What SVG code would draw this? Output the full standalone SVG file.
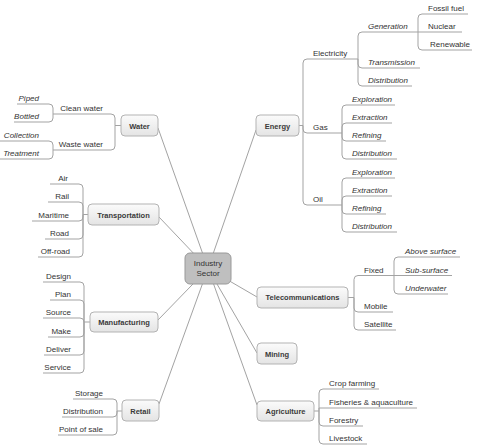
<svg xmlns="http://www.w3.org/2000/svg" width="480" height="445" viewBox="0 0 480 445">
<defs>
<linearGradient id="boxg" x1="0" y1="0" x2="0" y2="1">
<stop offset="0" stop-color="#fbfbfb"/>
<stop offset="1" stop-color="#e4e4e4"/>
</linearGradient>
<style>
.c{fill:none;stroke:#a3a3a3;stroke-width:1}
.box{fill:url(#boxg);stroke:#b3b3b3;stroke-width:1}
.main{font-family:"Liberation Sans",Arial,sans-serif;font-size:7.5px;font-weight:bold;fill:#3a3a3a;text-anchor:middle}
.t{font-family:"Liberation Sans",Arial,sans-serif;font-size:8px;fill:#333}
.i{font-style:italic}
.r{text-anchor:end}
</style>
</defs>
<rect width="480" height="445" fill="#fff"/>
<g id="connectors">
<path class="c" d="M208 268.5 L256 130 M208 268.5 L158 128 M208 268.5 L159 217 M208 268.5 L158 320 M208 268.5 L159 404 M208 268.5 L257 297 M208 268.5 L257 353 M208 268.5 L257 405"/>
<path class="c" d="M299 125.5 H303 M303 125.5 V63 Q303 59 307 59 H358 M303 125.5 V129 Q303 133 307 133 H342 M303 125.5 V201 Q303 205 307 205 H342"/>
<path class="c" d="M358 59 V36 Q358 32 362 32 H418 M358 59 V64 Q358 68 362 68 H420 M358 59 V82 Q358 86 362 86 H412"/>
<path class="c" d="M418 32 V18 Q418 14 422 14 H468 M418 32 H462 M418 32 V46 Q418 50 422 50 H472"/>
<path class="c" d="M342 133 V109 Q342 105 346 105 H395 M342 133 V127 Q342 123 346 123 H392 M342 133 V137 Q342 141 346 141 H386 M342 133 V155 Q342 159 346 159 H397"/>
<path class="c" d="M342 205 V182 Q342 178 346 178 H395 M342 205 V200 Q342 196 346 196 H392 M342 205 V210 Q342 214 346 214 H386 M342 205 V228 Q342 232 346 232 H397"/>
<path class="c" d="M348 297.5 H354 M354 297.5 V279.5 Q354 275.5 358 275.5 H394 M354 297.5 V308 Q354 312 358 312 H393 M354 297.5 V326 Q354 330 358 330 H396"/>
<path class="c" d="M394 275.5 V261 Q394 257 398 257 H460 M394 275.5 H452 M394 275.5 V290 Q394 294 398 294 H448"/>
<path class="c" d="M314 411 H319 M319 411 V393 Q319 389 323 389 H379 M319 411 V408 H417 M319 411 V422 Q319 426 323 426 H363 M319 411 V440 Q319 444 323 444 H367"/>
<path class="c" d="M121 125.5 H115 M115 125.5 V118 Q115 114 111 114 H53 M115 125.5 V146 Q115 150 111 150 H53"/>
<path class="c" d="M53 114 V108 Q53 104 49 104 H17 M53 114 V118 Q53 122 49 122 H14 M53 150 V145 Q53 141 49 141 H0 M53 150 V155 Q53 159 49 159 H0"/>
<path class="c" d="M88 214.5 H83 M83 214.5 V188 Q83 184 79 184 H50 M83 214.5 V206 Q83 202 79 202 H48 M83 214.5 V217 Q83 221 79 221 H32 M83 214.5 V235 Q83 239 79 239 H45 M83 214.5 V253 Q83 257 79 257 H38"/>
<path class="c" d="M90 322 H84 M84 322 V286 Q84 282 80 282 H43 M84 322 V304 Q84 300 80 300 H50 M84 322 Q84 318 80 318 H43 M84 322 V333 Q84 337 80 337 H48 M84 322 V351 Q84 355 80 355 H44 M84 322 V369 Q84 373 80 373 H43"/>
<path class="c" d="M122 411 H117 M117 411 V403 Q117 399 113 399 H73 M117 411 V413 Q117 417 113 417 H62 M117 411 V431 Q117 435 113 435 H58"/>
</g>
<g id="center">
<rect x="185" y="253" width="46" height="31" rx="5" fill="#bfbfbf" stroke="#999"/>
<text class="t" x="208" y="266" text-anchor="middle" fill="#555">Industry</text>
<text class="t" x="208" y="276" text-anchor="middle" fill="#555">Sector</text>
</g>
<g id="energy"><rect class="box" x="256" y="115" width="43" height="21" rx="4"/><text class="main" x="277.5" y="128.5">Energy</text></g>
<g id="water"><rect class="box" x="121" y="115" width="37" height="21" rx="4"/><text class="main" x="139.5" y="128.5">Water</text></g>
<g id="transportation"><rect class="box" x="88" y="204" width="71" height="21" rx="4"/><text class="main" x="123.5" y="217.5">Transportation</text></g>
<g id="manufacturing"><rect class="box" x="90" y="312" width="68" height="20" rx="4"/><text class="main" x="124" y="325">Manufacturing</text></g>
<g id="retail"><rect class="box" x="122" y="400" width="37" height="21" rx="4"/><text class="main" x="140.5" y="413.5">Retail</text></g>
<g id="telecommunications"><rect class="box" x="257" y="287" width="91" height="21" rx="4"/><text class="main" x="302.5" y="300">Telecommunications</text></g>
<g id="mining"><rect class="box" x="257" y="343" width="40" height="21" rx="4"/><text class="main" x="277" y="356.5">Mining</text></g>
<g id="agriculture"><rect class="box" x="257" y="401" width="57" height="20" rx="4"/><text class="main" x="285.5" y="414">Agriculture</text></g>
<g id="energy-sub">
<g id="electricity"><text class="t" x="313" y="56">Electricity</text></g>
<g id="generation"><text class="t i" x="368" y="29">Generation</text></g>
<g id="fossil"><text class="t" x="428" y="11">Fossil fuel</text></g>
<g id="nuclear"><text class="t" x="428" y="29">Nuclear</text></g>
<g id="renewable"><text class="t" x="430" y="47">Renewable</text></g>
<g id="transmission"><text class="t i" x="368" y="65">Transmission</text></g>
<g id="e-distribution"><text class="t i" x="368" y="83">Distribution</text></g>
<g id="gas"><text class="t" x="313" y="130">Gas</text></g>
<g id="g-exploration"><text class="t i" x="352" y="102">Exploration</text></g>
<g id="g-extraction"><text class="t i" x="352" y="120">Extraction</text></g>
<g id="g-refining"><text class="t i" x="352" y="138">Refining</text></g>
<g id="g-distribution"><text class="t i" x="352" y="156">Distribution</text></g>
<g id="oil"><text class="t" x="313" y="202">Oil</text></g>
<g id="o-exploration"><text class="t i" x="352" y="175">Exploration</text></g>
<g id="o-extraction"><text class="t i" x="352" y="193">Extraction</text></g>
<g id="o-refining"><text class="t i" x="352" y="211">Refining</text></g>
<g id="o-distribution"><text class="t i" x="352" y="229">Distribution</text></g>
</g>
<g id="telecom-sub">
<g id="fixed"><text class="t" x="364" y="272.5">Fixed</text></g>
<g id="above"><text class="t i" x="405" y="254">Above surface</text></g>
<g id="subsurface"><text class="t i" x="405" y="272.5">Sub-surface</text></g>
<g id="underwater"><text class="t i" x="405" y="291">Underwater</text></g>
<g id="mobile"><text class="t" x="364" y="309">Mobile</text></g>
<g id="satellite"><text class="t" x="364" y="327">Satellite</text></g>
</g>
<g id="agri-sub">
<g id="crop"><text class="t" x="329" y="386">Crop farming</text></g>
<g id="fisheries"><text class="t" x="329" y="405">Fisheries &amp; aquaculture</text></g>
<g id="forestry"><text class="t" x="329" y="423">Forestry</text></g>
<g id="livestock"><text class="t" x="329" y="441">Livestock</text></g>
</g>
<g id="water-sub">
<g id="clean"><text class="t r" x="103" y="111">Clean water</text></g>
<g id="piped"><text class="t r i" x="39" y="101">Piped</text></g>
<g id="bottled"><text class="t r i" x="39" y="119">Bottled</text></g>
<g id="waste"><text class="t r" x="103" y="147">Waste water</text></g>
<g id="collection"><text class="t r i" x="39" y="138">Collection</text></g>
<g id="treatment"><text class="t r i" x="39" y="156">Treatment</text></g>
</g>
<g id="transport-sub">
<g id="air"><text class="t r" x="68" y="181">Air</text></g>
<g id="rail"><text class="t r" x="69" y="199">Rail</text></g>
<g id="maritime"><text class="t r" x="69" y="218">Maritime</text></g>
<g id="road"><text class="t r" x="69" y="236">Road</text></g>
<g id="offroad"><text class="t r" x="70" y="254">Off-road</text></g>
</g>
<g id="manuf-sub">
<g id="design"><text class="t r" x="71" y="279">Design</text></g>
<g id="plan"><text class="t r" x="71" y="297">Plan</text></g>
<g id="source"><text class="t r" x="71" y="315">Source</text></g>
<g id="make"><text class="t r" x="71" y="334">Make</text></g>
<g id="deliver"><text class="t r" x="71" y="352">Deliver</text></g>
<g id="service"><text class="t r" x="71" y="370">Service</text></g>
</g>
<g id="retail-sub">
<g id="storage"><text class="t r" x="103" y="396">Storage</text></g>
<g id="r-distribution"><text class="t r" x="103" y="414">Distribution</text></g>
<g id="pos"><text class="t r" x="103" y="432">Point of sale</text></g>
</g>
</svg>
